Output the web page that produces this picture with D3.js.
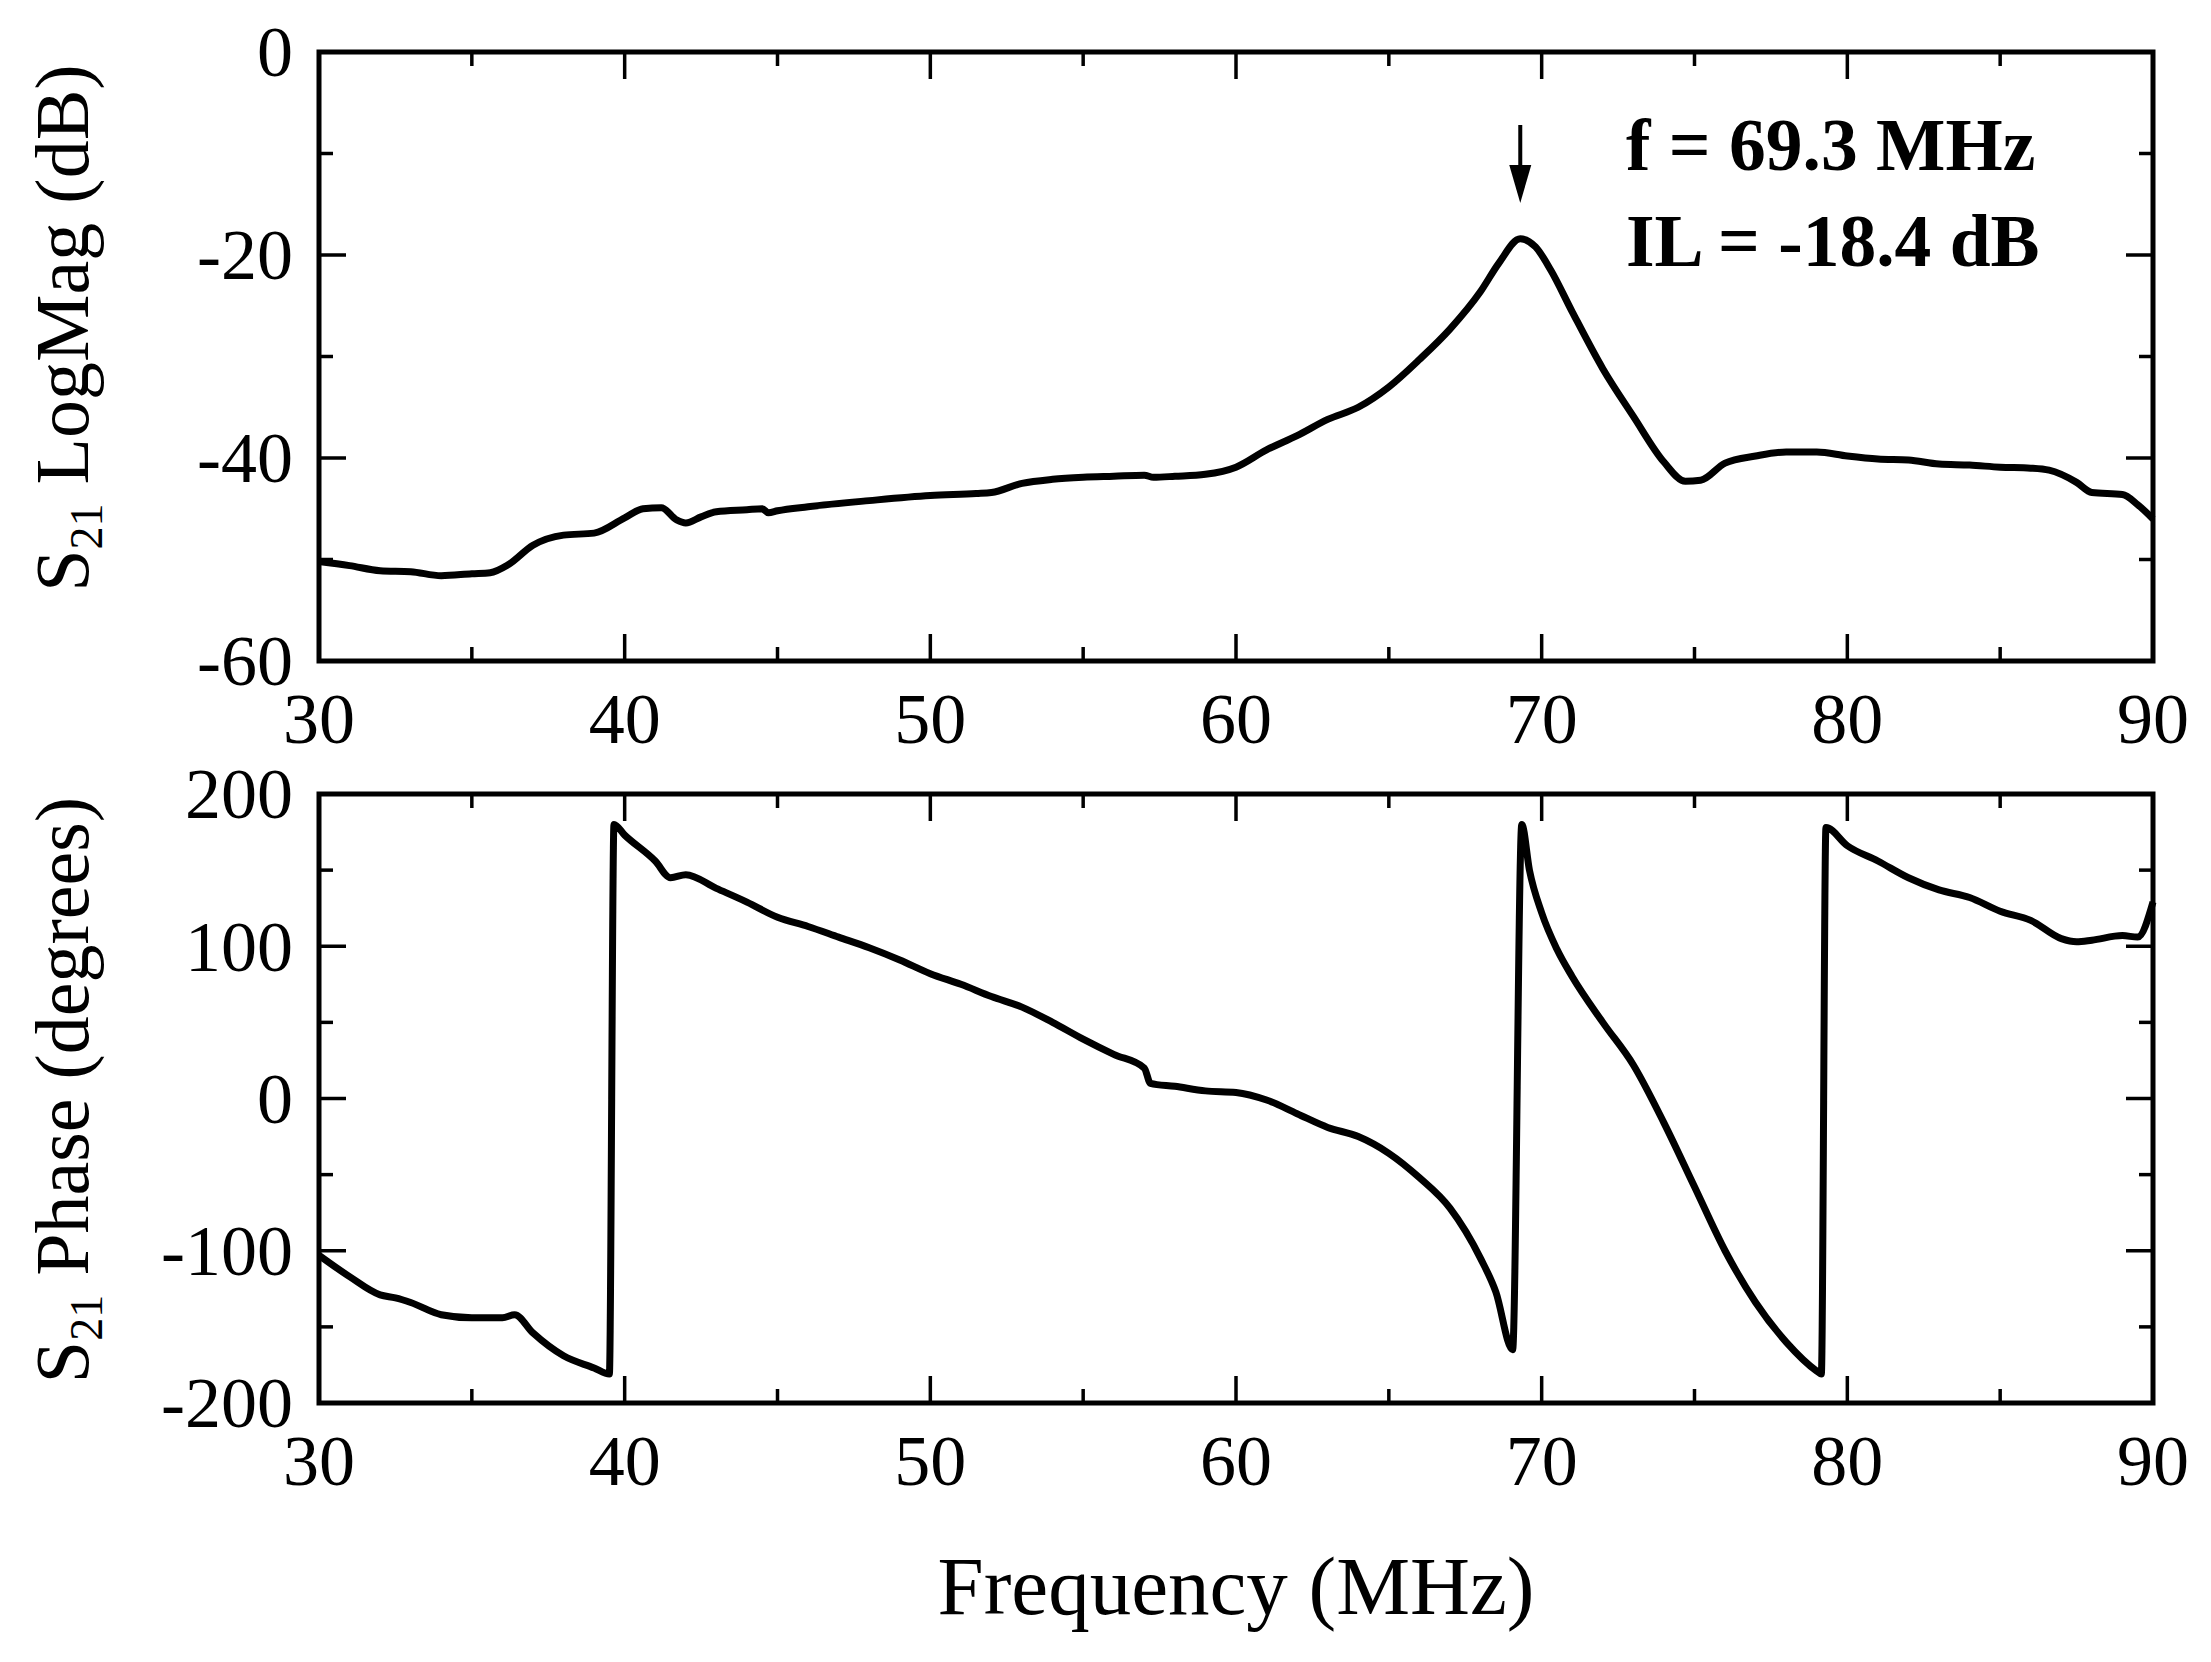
<!DOCTYPE html>
<html>
<head>
<meta charset="utf-8">
<script src="https://cdn.jsdelivr.net/npm/d3@7"></script>
<style>
  body { margin: 0; background: #fff; }
  text { font-family: "Liberation Serif", "Times New Roman", serif; fill: #000; }
</style>
</head>
<body>
<div id="chart"></div>
<script>
// Frequency sweep, MHz
const magFreq = [30, 31, 32, 33, 34, 35, 35.6, 36.2, 37, 38, 39, 40, 40.6, 41.2, 41.7, 42, 42.5, 43, 44, 44.5, 44.7, 45, 46, 48, 50, 51.5, 52, 53, 54, 55, 56, 57, 57.3, 58, 59, 60, 61, 62, 63, 64, 65, 66, 67, 68, 68.6, 69.3, 69.8, 70.3, 71, 72, 73, 74, 74.7, 75.2, 76, 77, 78, 79, 80, 81, 82, 83, 84, 85, 86, 86.6, 87.5, 88, 89, 89.5, 90];
// S21 magnitude, dB
const magDb = [-50.2, -50.6, -51.1, -51.2, -51.6, -51.4, -51.3, -50.5, -48.6, -47.6, -47.4, -45.9, -45.0, -44.9, -46.1, -46.4, -45.8, -45.3, -45.1, -45.0, -45.4, -45.2, -44.8, -44.2, -43.7, -43.5, -43.4, -42.5, -42.1, -41.9, -41.8, -41.7, -41.9, -41.8, -41.6, -40.9, -39.2, -37.8, -36.2, -35.0, -33.0, -30.3, -27.3, -23.6, -20.8, -18.4, -19.2, -21.5, -25.6, -31.2, -35.9, -40.4, -42.3, -42.2, -40.5, -39.8, -39.4, -39.4, -39.8, -40.1, -40.2, -40.6, -40.7, -40.9, -41.0, -41.2, -42.4, -43.4, -43.6, -44.6, -46.0];

// S21 phase, degrees
const phaseFreq = [30, 31, 32, 32.5, 33, 34, 35, 36, 36.4, 37, 38, 39, 39.5, 39.65, 40, 41, 41.5, 42, 43, 44, 45, 46, 47, 48, 49, 50, 51, 52, 53, 54, 55, 56, 57, 57.2, 58, 59, 60, 61, 62, 63, 64, 65, 66, 67, 68, 68.5, 69.05, 69.35, 69.6, 70, 70.5, 71, 72, 73, 74, 75, 76, 77, 78, 79, 79.15, 79.3, 80, 81, 82, 83, 84, 85, 86, 87, 87.5, 88, 89, 89.5, 90];
const phaseDeg = [-103, -117, -129, -131, -134, -142, -144, -144, -142, -154, -169, -177, -181, 180, 173, 156, 145, 147, 138, 129, 119, 113, 106, 99, 91, 82, 75, 67, 60, 50, 39, 29, 20, 10, 8, 5, 4, -1, -10, -19, -25, -36, -52, -72, -105, -127, -165, 180, 150, 122, 98, 80, 50, 22, -16, -58, -100, -134, -160, -179, -181, 178, 166, 156, 145, 137, 132, 123, 117, 105, 103, 104, 107, 106, 129];

// Axis ticks
const freqTicks = [30, 40, 50, 60, 70, 80, 90];
const magTicks = [0, -20, -40, -60];
const phaseTicks = [200, 100, 0, -100, -200];

// Peak annotation
const peakFreq = 69.3;
const peakLines = ["f = 69.3 MHz", "IL = -18.4 dB"];

const W = 2211, H = 1662;
const left = 319, right = 2153;
const topPanel = { y0: 52, y1: 661 };
const botPanel = { y0: 794, y1: 1403 };

const svg = d3.select("#chart").append("svg")
  .attr("width", W).attr("height", H)
  .style("background", "#fff");

const x = d3.scaleLinear().domain([30, 90]).range([left, right]);
const yMag = d3.scaleLinear().domain([-60, 0]).range([topPanel.y1, topPanel.y0]);
const yPh = d3.scaleLinear().domain([-200, 200]).range([botPanel.y1, botPanel.y0]);

const majorLen = 27, minorLen = 14;
const fontSize = 72;

function panel(y, yTickVals, yMinor, panelBox) {
  const g = svg.append("g");
  // inward ticks on all four sides, labelled ones longer
  const xMinor = d3.range(30, 90.01, 5);
  xMinor.forEach(v => {
    const len = freqTicks.includes(v) ? majorLen : minorLen;
    g.append("line").attr("x1", x(v)).attr("x2", x(v))
      .attr("y1", panelBox.y1).attr("y2", panelBox.y1 - len)
      .attr("stroke", "#000").attr("stroke-width", 3.5);
    g.append("line").attr("x1", x(v)).attr("x2", x(v))
      .attr("y1", panelBox.y0).attr("y2", panelBox.y0 + len)
      .attr("stroke", "#000").attr("stroke-width", 3.5);
  });
  yMinor.forEach(v => {
    const len = yTickVals.includes(v) ? majorLen : minorLen;
    g.append("line").attr("x1", left).attr("x2", left + len)
      .attr("y1", y(v)).attr("y2", y(v))
      .attr("stroke", "#000").attr("stroke-width", 3.5);
    g.append("line").attr("x1", right).attr("x2", right - len)
      .attr("y1", y(v)).attr("y2", y(v))
      .attr("stroke", "#000").attr("stroke-width", 3.5);
  });
  // frame
  g.append("rect")
    .attr("x", left).attr("y", panelBox.y0)
    .attr("width", right - left).attr("height", panelBox.y1 - panelBox.y0)
    .attr("fill", "none").attr("stroke", "#000").attr("stroke-width", 5);

  // tick labels
  g.selectAll("text.xt").data(freqTicks).enter().append("text")
    .attr("x", d => x(d)).attr("y", panelBox.y1 + 82)
    .attr("text-anchor", "middle").style("font-size", fontSize + "px")
    .text(d => d);
  g.selectAll("text.yt").data(yTickVals).enter().append("text")
    .attr("x", left - 26).attr("y", d => y(d))
    .attr("dy", "0.34em")
    .attr("text-anchor", "end").style("font-size", fontSize + "px")
    .text(d => d);
  return g;
}

panel(yMag, magTicks, d3.range(-60, 0.01, 10), topPanel);
panel(yPh, phaseTicks, d3.range(-200, 200.01, 50), botPanel);

// curves
const line = d3.line().curve(d3.curveMonotoneX);

svg.append("path")
  .attr("d", line(magFreq.map((f, i) => [x(f), yMag(magDb[i])])))
  .attr("fill", "none").attr("stroke", "#000").attr("stroke-width", 7)
  .attr("stroke-linejoin", "round");

svg.append("path")
  .attr("d", line(phaseFreq.map((f, i) => [x(f), yPh(phaseDeg[i])])))
  .attr("fill", "none").attr("stroke", "#000").attr("stroke-width", 7)
  .attr("stroke-linejoin", "miter");

// axis labels
function yLabel(cx, cy, word) {
  const t = svg.append("text")
    .attr("transform", `translate(${cx},${cy}) rotate(-90)`)
    .attr("text-anchor", "middle")
    .style("font-size", "76px");
  t.append("tspan").text("S");
  t.append("tspan").attr("dy", 14).style("font-size", "46px").text("21");
  t.append("tspan").attr("dy", -14).text(" " + word);
}
yLabel(88, 328, "LogMag (dB)");
yLabel(88, 1090, "Phase (degrees)");

svg.append("text")
  .attr("x", (left + right) / 2).attr("y", 1614)
  .attr("text-anchor", "middle")
  .style("font-size", "83px")
  .text("Frequency (MHz)");

// peak marker arrow
const ax = x(peakFreq);
svg.append("line")
  .attr("x1", ax).attr("x2", ax).attr("y1", 125).attr("y2", 172)
  .attr("stroke", "#000").attr("stroke-width", 4);
svg.append("path")
  .attr("d", `M${ax - 11},165 L${ax + 11},165 L${ax},203 Z`)
  .attr("fill", "#000");

svg.selectAll("text.note").data(peakLines).enter().append("text")
  .attr("x", 1626).attr("y", (d, i) => 170 + i * 96)
  .style("font-size", "73.5px").style("font-weight", "bold")
  .text(d => d);
</script>
</body>
</html>
